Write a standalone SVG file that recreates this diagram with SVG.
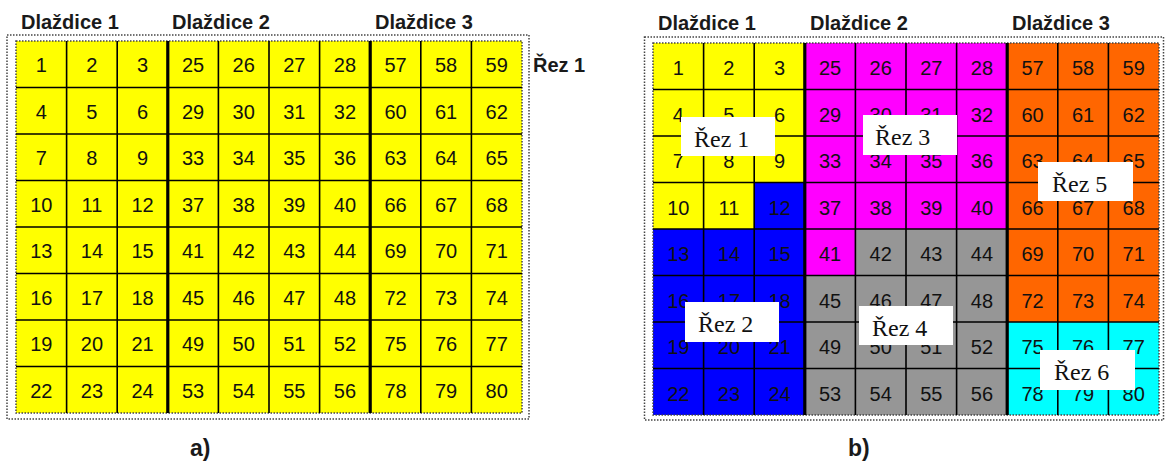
<svg xmlns="http://www.w3.org/2000/svg" width="1166" height="461" viewBox="0 0 1166 461">
<style>
.n{font-family:"Liberation Sans",Arial,sans-serif;font-size:20px;text-anchor:middle;fill:#111}
.h{font-family:"Liberation Sans",Arial,sans-serif;font-size:20px;font-weight:bold;fill:#1a1a1a}
.cap{font-family:"Liberation Sans",Arial,sans-serif;font-size:23px;font-weight:bold;fill:#1a1a1a}
.lbl{font-family:"Liberation Serif","Times New Roman",serif;font-size:24px;fill:#111}
.box{fill:#fff}
.dot{fill:none;stroke:#444;stroke-width:1.5;stroke-dasharray:1.5 1.5}
.thin{fill:none;stroke:#000;stroke-width:1.6}
.thick{fill:none;stroke:#000;stroke-width:3.2}
</style>
<rect width="1166" height="461" fill="#fff"/>

<!-- Panel a -->
<g id="panel-a">
  <text class="h" x="21" y="29">Dlaždice 1</text>
  <text class="h" x="172" y="29">Dlaždice 2</text>
  <text class="h" x="375" y="29">Dlaždice 3</text>
  <text class="h" x="533" y="72">Řez 1</text>
  <g id="grid-a" transform="translate(16,41)">
    <rect x="-9" y="-6" width="522" height="384" class="dot"/>
    <rect x="0" y="0" width="506" height="372" fill="#ffff00"/>
    <rect x="0" y="0" width="506" height="372" class="dot"/>
    <path class="thin" d="M50.6 0V372M101.2 0V372M202.4 0V372M253 0V372M303.6 0V372M404.8 0V372M455.4 0V372M0 46.5H506M0 93H506M0 139.5H506M0 186H506M0 232.5H506M0 279H506M0 325.5H506"/>
    <path class="thick" d="M151.8 0V372M354.2 0V372"/>
    <g id="a-tile1">
      <text class="n" x="25.3" y="31">1</text><text class="n" x="75.9" y="31">2</text><text class="n" x="126.5" y="31">3</text>
      <text class="n" x="25.3" y="77.5">4</text><text class="n" x="75.9" y="77.5">5</text><text class="n" x="126.5" y="77.5">6</text>
      <text class="n" x="25.3" y="124">7</text><text class="n" x="75.9" y="124">8</text><text class="n" x="126.5" y="124">9</text>
      <text class="n" x="25.3" y="170.5">10</text><text class="n" x="75.9" y="170.5">11</text><text class="n" x="126.5" y="170.5">12</text>
      <text class="n" x="25.3" y="217">13</text><text class="n" x="75.9" y="217">14</text><text class="n" x="126.5" y="217">15</text>
      <text class="n" x="25.3" y="263.5">16</text><text class="n" x="75.9" y="263.5">17</text><text class="n" x="126.5" y="263.5">18</text>
      <text class="n" x="25.3" y="310">19</text><text class="n" x="75.9" y="310">20</text><text class="n" x="126.5" y="310">21</text>
      <text class="n" x="25.3" y="356.5">22</text><text class="n" x="75.9" y="356.5">23</text><text class="n" x="126.5" y="356.5">24</text>
    </g>
    <g id="a-tile2">
      <text class="n" x="177.1" y="31">25</text><text class="n" x="227.7" y="31">26</text><text class="n" x="278.3" y="31">27</text><text class="n" x="328.9" y="31">28</text>
      <text class="n" x="177.1" y="77.5">29</text><text class="n" x="227.7" y="77.5">30</text><text class="n" x="278.3" y="77.5">31</text><text class="n" x="328.9" y="77.5">32</text>
      <text class="n" x="177.1" y="124">33</text><text class="n" x="227.7" y="124">34</text><text class="n" x="278.3" y="124">35</text><text class="n" x="328.9" y="124">36</text>
      <text class="n" x="177.1" y="170.5">37</text><text class="n" x="227.7" y="170.5">38</text><text class="n" x="278.3" y="170.5">39</text><text class="n" x="328.9" y="170.5">40</text>
      <text class="n" x="177.1" y="217">41</text><text class="n" x="227.7" y="217">42</text><text class="n" x="278.3" y="217">43</text><text class="n" x="328.9" y="217">44</text>
      <text class="n" x="177.1" y="263.5">45</text><text class="n" x="227.7" y="263.5">46</text><text class="n" x="278.3" y="263.5">47</text><text class="n" x="328.9" y="263.5">48</text>
      <text class="n" x="177.1" y="310">49</text><text class="n" x="227.7" y="310">50</text><text class="n" x="278.3" y="310">51</text><text class="n" x="328.9" y="310">52</text>
      <text class="n" x="177.1" y="356.5">53</text><text class="n" x="227.7" y="356.5">54</text><text class="n" x="278.3" y="356.5">55</text><text class="n" x="328.9" y="356.5">56</text>
    </g>
    <g id="a-tile3">
      <text class="n" x="379.5" y="31">57</text><text class="n" x="430.1" y="31">58</text><text class="n" x="480.7" y="31">59</text>
      <text class="n" x="379.5" y="77.5">60</text><text class="n" x="430.1" y="77.5">61</text><text class="n" x="480.7" y="77.5">62</text>
      <text class="n" x="379.5" y="124">63</text><text class="n" x="430.1" y="124">64</text><text class="n" x="480.7" y="124">65</text>
      <text class="n" x="379.5" y="170.5">66</text><text class="n" x="430.1" y="170.5">67</text><text class="n" x="480.7" y="170.5">68</text>
      <text class="n" x="379.5" y="217">69</text><text class="n" x="430.1" y="217">70</text><text class="n" x="480.7" y="217">71</text>
      <text class="n" x="379.5" y="263.5">72</text><text class="n" x="430.1" y="263.5">73</text><text class="n" x="480.7" y="263.5">74</text>
      <text class="n" x="379.5" y="310">75</text><text class="n" x="430.1" y="310">76</text><text class="n" x="480.7" y="310">77</text>
      <text class="n" x="379.5" y="356.5">78</text><text class="n" x="430.1" y="356.5">79</text><text class="n" x="480.7" y="356.5">80</text>
    </g>
  </g>
  <text class="cap" x="190" y="456">a)</text>
</g>

<!-- Panel b -->
<g id="panel-b">
  <text class="h" x="658" y="30">Dlaždice 1</text>
  <text class="h" x="810" y="30">Dlaždice 2</text>
  <text class="h" x="1012" y="30">Dlaždice 3</text>
  <g id="grid-b" transform="translate(653,43)">
    <rect x="-8.5" y="-6" width="519" height="383" class="dot"/>
    <g id="regions">
      <path fill="#ffff00" d="M0 0H151.8V139.5H101.2V186H0Z"/>
      <path fill="#0000ff" d="M101.2 139.5H151.8V372H0V186H101.2Z"/>
      <path fill="#ff00ff" d="M151.8 0H354.2V186H202.4V232.5H151.8Z"/>
      <path fill="#969696" d="M202.4 186H354.2V372H151.8V232.5H202.4Z"/>
      <rect fill="#ff6600" x="354.2" y="0" width="151.8" height="279"/>
      <rect fill="#00ffff" x="354.2" y="279" width="151.8" height="93"/>
    </g>
    <rect x="0" y="0" width="506" height="372" class="dot"/>
    <path class="thin" d="M50.6 0V372M101.2 0V372M202.4 0V372M253 0V372M303.6 0V372M404.8 0V372M455.4 0V372M0 46.5H506M0 93H506M0 139.5H506M0 186H506M0 232.5H506M0 279H506M0 325.5H506"/>
    <path class="thick" d="M151.8 0V372M354.2 0V372"/>
    <g id="b-tile1">
      <text class="n" x="25.3" y="32">1</text><text class="n" x="75.9" y="32">2</text><text class="n" x="126.5" y="32">3</text>
      <text class="n" x="25.3" y="78.5">4</text><text class="n" x="75.9" y="78.5">5</text><text class="n" x="126.5" y="78.5">6</text>
      <text class="n" x="25.3" y="125">7</text><text class="n" x="75.9" y="125">8</text><text class="n" x="126.5" y="125">9</text>
      <text class="n" x="25.3" y="171.5">10</text><text class="n" x="75.9" y="171.5">11</text><text class="n" x="126.5" y="171.5">12</text>
      <text class="n" x="25.3" y="218">13</text><text class="n" x="75.9" y="218">14</text><text class="n" x="126.5" y="218">15</text>
      <text class="n" x="25.3" y="264.5">16</text><text class="n" x="75.9" y="264.5">17</text><text class="n" x="126.5" y="264.5">18</text>
      <text class="n" x="25.3" y="311">19</text><text class="n" x="75.9" y="311">20</text><text class="n" x="126.5" y="311">21</text>
      <text class="n" x="25.3" y="357.5">22</text><text class="n" x="75.9" y="357.5">23</text><text class="n" x="126.5" y="357.5">24</text>
    </g>
    <g id="b-tile2">
      <text class="n" x="177.1" y="32">25</text><text class="n" x="227.7" y="32">26</text><text class="n" x="278.3" y="32">27</text><text class="n" x="328.9" y="32">28</text>
      <text class="n" x="177.1" y="78.5">29</text><text class="n" x="227.7" y="78.5">30</text><text class="n" x="278.3" y="78.5">31</text><text class="n" x="328.9" y="78.5">32</text>
      <text class="n" x="177.1" y="125">33</text><text class="n" x="227.7" y="125">34</text><text class="n" x="278.3" y="125">35</text><text class="n" x="328.9" y="125">36</text>
      <text class="n" x="177.1" y="171.5">37</text><text class="n" x="227.7" y="171.5">38</text><text class="n" x="278.3" y="171.5">39</text><text class="n" x="328.9" y="171.5">40</text>
      <text class="n" x="177.1" y="218">41</text><text class="n" x="227.7" y="218">42</text><text class="n" x="278.3" y="218">43</text><text class="n" x="328.9" y="218">44</text>
      <text class="n" x="177.1" y="264.5">45</text><text class="n" x="227.7" y="264.5">46</text><text class="n" x="278.3" y="264.5">47</text><text class="n" x="328.9" y="264.5">48</text>
      <text class="n" x="177.1" y="311">49</text><text class="n" x="227.7" y="311">50</text><text class="n" x="278.3" y="311">51</text><text class="n" x="328.9" y="311">52</text>
      <text class="n" x="177.1" y="357.5">53</text><text class="n" x="227.7" y="357.5">54</text><text class="n" x="278.3" y="357.5">55</text><text class="n" x="328.9" y="357.5">56</text>
    </g>
    <g id="b-tile3">
      <text class="n" x="379.5" y="32">57</text><text class="n" x="430.1" y="32">58</text><text class="n" x="480.7" y="32">59</text>
      <text class="n" x="379.5" y="78.5">60</text><text class="n" x="430.1" y="78.5">61</text><text class="n" x="480.7" y="78.5">62</text>
      <text class="n" x="379.5" y="125">63</text><text class="n" x="430.1" y="125">64</text><text class="n" x="480.7" y="125">65</text>
      <text class="n" x="379.5" y="171.5">66</text><text class="n" x="430.1" y="171.5">67</text><text class="n" x="480.7" y="171.5">68</text>
      <text class="n" x="379.5" y="218">69</text><text class="n" x="430.1" y="218">70</text><text class="n" x="480.7" y="218">71</text>
      <text class="n" x="379.5" y="264.5">72</text><text class="n" x="430.1" y="264.5">73</text><text class="n" x="480.7" y="264.5">74</text>
      <text class="n" x="379.5" y="311">75</text><text class="n" x="430.1" y="311">76</text><text class="n" x="480.7" y="311">77</text>
      <text class="n" x="379.5" y="357.5">78</text><text class="n" x="430.1" y="357.5">79</text><text class="n" x="480.7" y="357.5">80</text>
    </g>
  </g>
  <g id="rez1"><rect class="box" x="681" y="117" width="94" height="39"/><text class="lbl" x="694" y="147">Řez 1</text></g>
  <g id="rez3"><rect class="box" x="863" y="115" width="94" height="40"/><text class="lbl" x="875" y="145">Řez 3</text></g>
  <g id="rez5"><rect class="box" x="1038" y="162" width="95" height="39"/><text class="lbl" x="1052" y="192">Řez 5</text></g>
  <g id="rez2"><rect class="box" x="685" y="302" width="94" height="40"/><text class="lbl" x="698" y="332">Řez 2</text></g>
  <g id="rez4"><rect class="box" x="859" y="306" width="94" height="39"/><text class="lbl" x="872" y="336">Řez 4</text></g>
  <g id="rez6"><rect class="box" x="1040" y="350" width="95" height="40"/><text class="lbl" x="1054" y="380">Řez 6</text></g>
  <text class="cap" x="848" y="456">b)</text>
</g>
</svg>
